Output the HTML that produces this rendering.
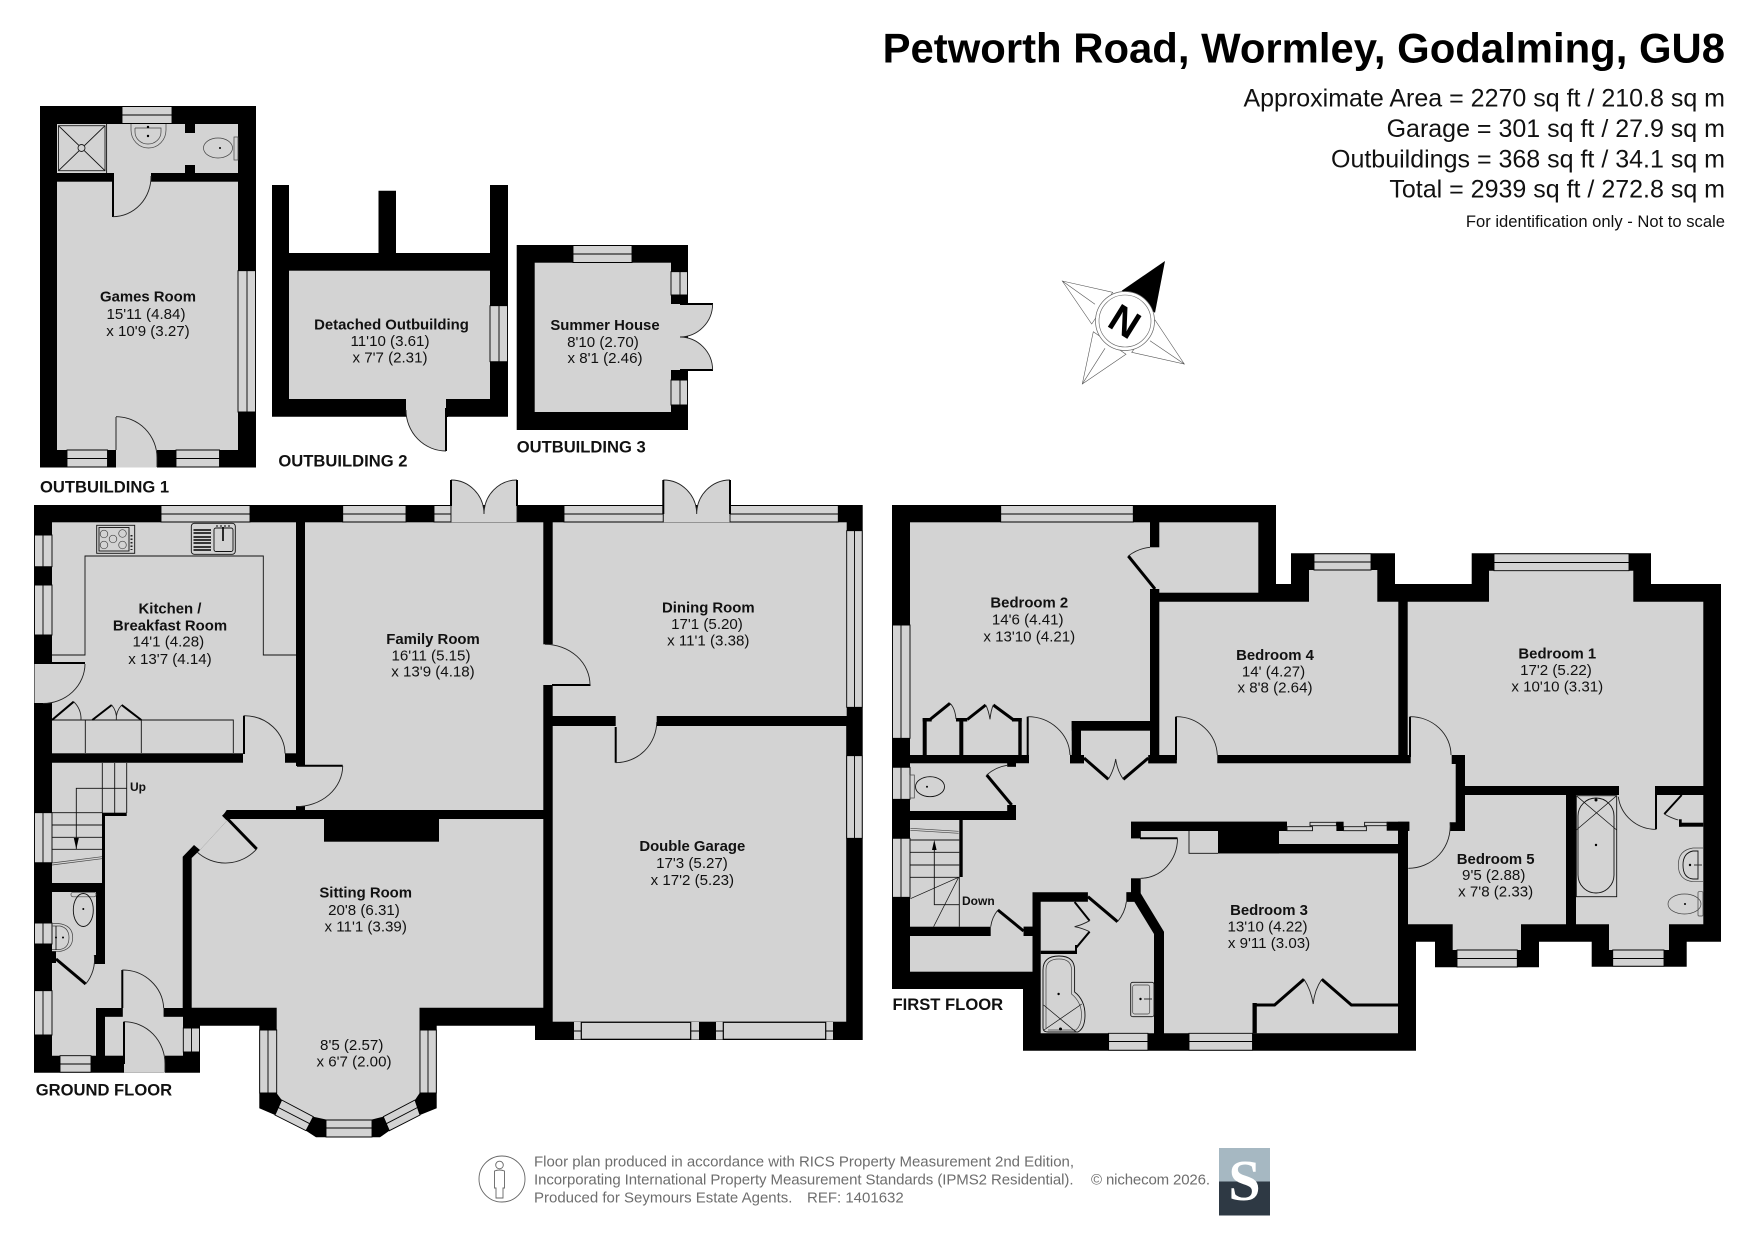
<!DOCTYPE html>
<html><head><meta charset="utf-8"><title>Petworth Road floor plan</title>
<style>
html,body{margin:0;padding:0;background:#fff}
svg{display:block}
text{font-family:"Liberation Sans",sans-serif;fill:#111}
.r text{font-size:15.1px;text-anchor:middle}
.r text.b{font-size:14.9px;font-weight:bold}
.lab{font-size:16.6px;font-weight:bold}
.g{fill:#d3d3d3}
.k{fill:#000}
.w{fill:#d3d3d3;stroke:#000;stroke-width:.9}
.a{fill:none;stroke:#222;stroke-width:.9}
.f{fill:#d3d3d3;stroke:#222;stroke-width:.9}
.l{fill:none;stroke:#000;stroke-width:3}
.m{fill:none;stroke:#000;stroke-width:2}
.t{fill:none;stroke:#111;stroke-width:.9}
.h{fill:none;stroke:#444;stroke-width:.7}
.ft{fill:#6e6e6e;font-size:15px}
</style></head><body>
<svg xmlns="http://www.w3.org/2000/svg" width="1755" height="1241" viewBox="0 0 1755 1241">
<rect width="1755" height="1241" fill="#fff"/>

<!-- Header -->
<text x="1725" y="62.5" text-anchor="end" font-size="41.85" font-weight="bold" style="fill:#000">Petworth Road, Wormley, Godalming, GU8</text>
<g font-size="25" text-anchor="end">
<text x="1735" y="106.7" display="none"></text>
<text x="1725" y="106.7">Approximate Area = 2270 sq ft / 210.8 sq m</text>
<text x="1725" y="137">Garage = 301 sq ft / 27.9 sq m</text>
<text x="1725" y="167.5">Outbuildings = 368 sq ft / 34.1 sq m</text>
<text x="1725" y="197.5">Total = 2939 sq ft / 272.8 sq m</text>
</g>
<text x="1725" y="227" text-anchor="end" font-size="16.6">For identification only - Not to scale</text>

<!-- Compass -->
<g>
<polygon points="1121.7,290.7 1165,261 1155,312.7" fill="#000"/>
<g fill="#fff" stroke="#555" stroke-width=".6">
<polygon points="1062.3,281 1112.7,292.3 1091.7,324"/>
<polygon points="1184.3,364 1155,320 1131.7,352.3"/>
<polygon points="1082.3,384 1093.3,331.7 1126,354.3"/>
<line x1="1062.3" y1="281" x2="1095" y2="304.3"/>
<line x1="1184.3" y1="364" x2="1150" y2="340.7"/>
<line x1="1082.3" y1="384" x2="1105" y2="348.3"/>
</g>
<circle cx="1125" cy="321" r="29.5" fill="#fff" stroke="#666" stroke-width=".7"/>
<circle cx="1125" cy="321" r="26" fill="#fff" stroke="#666" stroke-width=".6"/>
<text x="1125" y="321" font-size="39" font-weight="bold" text-anchor="middle" transform="rotate(32 1125 321) translate(0 14)" style="fill:#000">N</text>
</g>

<!-- OUTBUILDING 1 -->
<rect class="k" x="40" y="106" width="216" height="361.5"/>
<rect class="g" x="57" y="124" width="181" height="49"/>
<rect class="g" x="57" y="181.7" width="181" height="268.3"/>
<rect class="k" x="185" y="124" width="10" height="9"/>
<rect class="k" x="185" y="165" width="10" height="8"/>
<rect class="g" x="113" y="172" width="38" height="11"/>
<rect class="g" x="116" y="449" width="41" height="18.5"/>
<path class="w" d="M122,106.5H172V123.5H122ZM122,115H172"/>
<path class="w" d="M238,270.7H255.5V412H238ZM247,270.7V412"/>
<path class="w" d="M67,450H107.5V467H67ZM67,458.5H107.5"/>
<path class="w" d="M176,450H219.5V467H176ZM176,458.5H219.5"/>
<path class="m" d="M113,173V217"/>
<path class="a" d="M113,216.7A38,40 0 0 0 151,176"/>
<path class="a" d="M116,416.7A41,41 0 0 1 157,458V467"/>
<path class="t" d="M116,417V450"/>
<path class="t" d="M106.6,124V173"/>
<rect x="58.5" y="125.7" width="46.5" height="45" class="f"/>
<path class="t" stroke-width=".6" d="M58.5,125.7L105,170.7M105,125.7L58.5,170.7"/>
<circle cx="81.5" cy="148" r="3.5" class="f"/>
<path class="h" d="M131,124V130A17.5,18 0 0 0 166,130V124"/>
<path class="h" d="M135,128V132A13,12 0 0 0 161,132V128H135"/>
<circle cx="148" cy="127" r="1.2" fill="#000"/><circle cx="148" cy="136" r="1.2" fill="#000"/>
<ellipse cx="218" cy="148" rx="14.5" ry="10" class="h"/>
<rect x="234" y="137" width="4" height="23" class="h"/>
<circle cx="220" cy="148" r="1" fill="#000"/>
<g class="r">
<text x="148" y="301.5" class="b">Games Room</text>
<text x="146" y="319">15'11 (4.84)</text>
<text x="148" y="336">x 10'9 (3.27)</text>
</g>
<text x="40" y="492.7" class="lab">OUTBUILDING 1</text>

<!-- OUTBUILDING 2 -->
<polygon class="k" points="272,185 289,185 289,253 378.5,253 378.5,190.7 396,190.7 396,253 490,253 490,185 508,185 508,416.7 272,416.7"/>
<rect class="g" x="289" y="270.7" width="201" height="128.3"/>
<path class="g" d="M406,398V410A40,41 0 0 0 446,451V398Z"/>
<rect class="k" x="445" y="408" width="3" height="9"/>
<path class="m" d="M446,408V451"/>
<path class="a" d="M446,451A40,41 0 0 1 406,410"/>
<path class="w" d="M490,305.7H507.5V361.7H490ZM499,305.7V361.7"/>
<g class="r">
<text x="391.5" y="329.3" class="b">Detached Outbuilding</text>
<text x="390" y="346">11'10 (3.61)</text>
<text x="390" y="362.7">x 7'7 (2.31)</text>
</g>
<text x="278.4" y="466.7" class="lab">OUTBUILDING 2</text>

<!-- OUTBUILDING 3 -->
<rect class="k" x="516.7" y="245" width="171.3" height="185"/>
<rect class="g" x="534.7" y="262.7" width="136.3" height="149.3"/>
<path class="g" d="M670,304H712.6A33,33 0 0 1 680,337A33,33 0 0 1 712.6,370H670Z"/>
<path class="w" d="M573,245.5H632V262.5H573ZM573,254H632"/>
<path class="w" d="M671,271.7H687.5V295H671ZM680,271.7V295"/>
<path class="w" d="M671,380H687.5V405H671ZM680,380V405"/>
<path class="m" d="M680,304H713M680,370H713"/>
<path class="a" d="M712.6,304A33,33 0 0 1 680,337A33,33 0 0 1 712.6,370"/>
<g class="r">
<text x="605" y="330" class="b">Summer House</text>
<text x="603" y="347">8'10 (2.70)</text>
<text x="605" y="363">x 8'1 (2.46)</text>
</g>
<text x="516.7" y="452.7" class="lab">OUTBUILDING 3</text>

<!-- GROUND FLOOR -->
<polygon class="k" points="34,505 862.7,505 862.7,1040 535,1040 535,1025.7 436.7,1025.7 436.7,1108.3 420,1115 389.3,1130.7 380,1137.3 316,1137.3 306,1130.7 275,1115 259.3,1108.3 259.3,1025.7 200,1025.7 200,1072.7 34,1072.7"/>
<!-- rooms -->
<rect class="g" x="52" y="522.3" width="244" height="231"/>
<rect class="g" x="305" y="522.3" width="238.3" height="287.7"/>
<rect class="g" x="552.7" y="522.3" width="294" height="193.7"/>
<rect class="g" x="552.7" y="726" width="293.5" height="295.7"/>
<polygon class="g" points="228.5,819 543.3,819 543.3,1007.7 419.5,1007.7 419.5,1093.3 415,1100 383.3,1116.7 372,1119.5 326,1119.5 313.3,1116.7 281.7,1100 276.7,1093.3 276.7,1007.7 191.7,1007.7 191.7,858 200,850"/>
<polygon class="g" points="52,762.7 296,762.7 296,810 226.7,810 224,814 228.5,819 200,850 194,845 182.7,856.7 182.7,1008 96,1008 96,1055.7 52,1055.7"/>
<rect class="g" x="105" y="1016.7" width="78" height="39"/>
<rect class="g" x="122.7" y="1007" width="41" height="11"/>
<rect class="g" x="124" y="1054" width="41" height="18.7"/>
<rect class="g" x="243" y="752" width="42" height="12"/>
<rect class="g" x="295" y="766" width="11" height="40"/>
<rect class="g" x="542" y="644.3" width="12" height="40.7"/>
<rect class="g" x="615.7" y="715" width="41" height="12"/>
<rect class="g" x="34.5" y="663" width="18" height="40"/>
<!-- walls in hall -->
<rect class="k" x="102" y="813" width="3" height="79"/>
<rect class="k" x="102" y="812.7" width="24.7" height="3.3"/>
<rect class="k" x="52" y="883" width="53" height="9"/>
<rect class="k" x="96" y="883" width="9" height="81"/>
<rect class="k" x="94" y="955" width="11" height="9"/>
<rect class="k" x="52" y="951" width="4" height="12"/>
<rect class="k" x="96" y="1008" width="9" height="47.7"/>
<rect class="k" x="105" y="1008" width="17.7" height="8.7"/>
<rect class="k" x="163.7" y="1008" width="20" height="8.7"/>
<rect class="k" x="324" y="819" width="115" height="22.7"/>
<!-- windows -->
<path class="w" d="M161,505.5H250V522H161ZM161,514H250"/>
<path class="w" d="M342.7,505.5H406V522H342.7ZM342.7,514H406"/>
<path class="w" d="M434,505.5H451V522H434ZM434,514H451"/>
<path class="w" d="M564,505.5H663.3V522H564ZM564,514H663.3"/>
<path class="w" d="M730,505.5H838.3V522H730ZM730,514H838.3"/>
<path class="w" d="M846.7,530.7H862.2V707.3H846.7ZM854.5,530.7V707.3"/>
<path class="w" d="M846.7,755.7H862.2V838.3H846.7ZM854.5,755.7V838.3"/>
<path class="w" d="M34.5,535H52V566.7H34.5ZM43,535V566.7"/>
<path class="w" d="M34.5,585H52V635H34.5ZM43,585V635"/>
<path class="w" d="M34.5,812.7H52V862.7H34.5ZM43,812.7V862.7"/>
<path class="w" d="M34.5,923H52V944H34.5ZM43,923V944"/>
<path class="w" d="M34.5,990.7H52V1035H34.5ZM43,990.7V1035"/>
<path class="w" d="M60,1055.7H91V1072.2H60ZM60,1064H91"/>
<path class="w" d="M183.3,1028H199.5V1052H183.3ZM191.5,1028V1052"/>
<path class="w" d="M259.7,1030H276.7V1093H259.7ZM268,1030V1093"/>
<path class="w" d="M420,1030H436.3V1093H420ZM428,1030V1093"/>
<path class="w" d="M281.7,1100L313.3,1116.7L306,1130.7L275,1115ZM278.3,1107.5L309.7,1123.7"/>
<path class="w" d="M326,1120H372V1137H326ZM326,1128H372"/>
<path class="w" d="M383.3,1116.7L415,1100L420,1115L389.3,1130.7ZM386.3,1123.7L417.5,1107.5"/>
<!-- garage doors -->
<rect class="g" x="574" y="1022" width="125" height="17.5"/>
<rect class="g" x="716" y="1022" width="117" height="17.5"/>
<path d="M574,1031H582M690,1031H699M716,1031H724M825,1031H833" stroke="#000" stroke-width="1"/>
<rect x="581.3" y="1022.3" width="109.4" height="17" fill="#d3d3d3" stroke="#000" stroke-width="1.2"/>
<rect x="723.3" y="1022.3" width="102.4" height="17" fill="#d3d3d3" stroke="#000" stroke-width="1.2"/>
<!-- french doors -->
<path class="g" d="M451,522V480A33,34 0 0 1 484,514A33,34 0 0 1 517,480V522Z"/>
<path class="a" d="M451,480A33,34 0 0 1 484,514A33,34 0 0 1 517,480"/>
<path class="m" d="M451,480V506M517,480V506"/>
<path class="t" d="M451,506V522M517,506V522"/>
<path class="g" d="M663.3,522V480A33.4,34 0 0 1 696.7,514A33.4,34 0 0 1 730,480V522Z"/>
<path class="a" d="M663.3,480A33.4,34 0 0 1 696.7,514A33.4,34 0 0 1 730,480"/>
<path class="m" d="M663.3,480V514M730,480V514"/>
<path class="t" d="M663.3,514V522M730,514V522"/>
<!-- doors -->
<path class="m" d="M244,715.7V754"/><path class="a" d="M244,715.7A41,38 0 0 1 285,753.5"/>
<path class="m" d="M297,765.7H342.7"/><path class="a" d="M342.7,766A46.7,41 0 0 1 296,806.7"/>
<path class="m" d="M34,663H85"/><path class="a" d="M85,664A42,40 0 0 1 43,703.5"/>
<path class="l" d="M226.7,818L256.7,849"/><path class="a" d="M256.7,849A42,42 0 0 1 196.7,851.7"/>
<rect class="k" x="224" y="811" width="6" height="8" transform="rotate(45 227 815)"/>
<path class="l" d="M56,959L85.7,984"/><path class="a" d="M85.7,984A38.5,38.5 0 0 0 94.3,955"/>
<path class="m" d="M122.3,970V1008"/><path class="a" d="M122.3,970A41.4,40 0 0 1 163.7,1008"/>
<path class="m" d="M124,1021.7V1064"/><path class="a" d="M124,1021.7A41,42 0 0 1 165,1064V1072"/>
<path class="m" d="M615.7,727V762.7"/><path class="a" d="M615.7,762.7A41,41 0 0 0 656.7,722"/>
<path class="m" d="M552,685H590.5"/><path class="a" d="M545,644.3A45,40.7 0 0 1 590,685"/>
<!-- kitchen fittings -->
<path class="t" d="M52,655H85V556H263.3V655H296"/>
<path class="t" d="M52,720H233.3V753M85.3,720V753M141.3,720V753"/>
<path class="m" d="M52,720L73.7,701.7M92.3,720L111.7,705M141.3,720L121.7,705"/>
<path class="a" d="M73.7,701.7A24,24 0 0 1 81,720M111.7,705A20,20 0 0 1 116.3,720M121.7,705A20,20 0 0 0 116.3,720"/>
<rect x="96.7" y="525.3" width="38" height="28" class="t"/>
<rect x="99" y="527.5" width="30" height="23.5" class="t"/>
<g class="h"><circle cx="104" cy="534" r="3.8"/><circle cx="122.5" cy="533.5" r="3.8"/><circle cx="113" cy="539" r="3.8"/><circle cx="104" cy="545" r="3.8"/><circle cx="122.5" cy="545" r="3.8"/></g>
<path d="M131.5,535V550" stroke="#222" stroke-width="2" stroke-dasharray="1.5 2"/>
<rect x="191.3" y="523.3" width="44" height="31" rx="3" class="t"/>
<path d="M193.5,530H211M193.5,533H211M193.5,537H211M193.5,540H211M193.5,543H211M193.5,547H211M193.5,550H211" stroke="#000" stroke-width="1.6"/>
<rect x="214" y="528" width="19" height="23.5" rx="2" class="t"/>
<path d="M223,527V541" stroke="#000" stroke-width="1.6"/>
<path d="M216,526H231" stroke="#000" stroke-width="1" stroke-dasharray="2 2"/>
<!-- stairs -->
<path class="t" d="M102.3,763V813M114.7,763V813M126.7,763V813M76.3,849V788.3H126.7"/>
<path class="t" d="M52,812.7H102M52,825H102M52,837.3H102M52,849.3H102"/>
<polygon points="76.3,849 73.8,838 78.8,838" fill="#000"/>
<path class="h" d="M52,863L102,856.7M52,865L102,858.7"/>
<!-- WC -->
<rect x="71" y="892.3" width="25" height="4.5" rx="2" class="h"/>
<ellipse cx="83.3" cy="910" rx="10" ry="16.5" class="t"/>
<circle cx="83.3" cy="909" r="1" fill="#000"/>
<path class="h" d="M52,923.5H58Q72.7,925 72.7,937.5Q72.7,950 58,951.7H52"/>
<path class="h" d="M52,926H60Q69,928 69,937.5Q69,948 60,949.5H52"/>
<path class="t" d="M56,926V950"/><circle cx="63" cy="937.5" r="1" fill="#000"/><circle cx="56" cy="937.5" r="1" fill="#000"/>
<g class="r">
<text x="170" y="613.3" class="b">Kitchen /</text>
<text x="170" y="630.7" class="b">Breakfast Room</text>
<text x="168.3" y="646.7">14'1 (4.28)</text>
<text x="170" y="664">x 13'7 (4.14)</text>
<text x="433" y="644" class="b">Family Room</text>
<text x="431" y="660.3">16'11 (5.15)</text>
<text x="433" y="676.7">x 13'9 (4.18)</text>
<text x="708.3" y="612.7" class="b">Dining Room</text>
<text x="707" y="629">17'1 (5.20)</text>
<text x="708.3" y="645.7">x 11'1 (3.38)</text>
<text x="692.3" y="851" class="b">Double Garage</text>
<text x="692" y="868">17'3 (5.27)</text>
<text x="692.3" y="885">x 17'2 (5.23)</text>
<text x="365.7" y="897.7" class="b">Sitting Room</text>
<text x="364" y="915">20'8 (6.31)</text>
<text x="365.7" y="931.7">x 11'1 (3.39)</text>
<text x="351.7" y="1050">8'5 (2.57)</text>
<text x="354" y="1066.7">x 6'7 (2.00)</text>
</g>
<text x="130" y="795" font-size="12" font-weight="bold" transform="translate(0 -4)">Up</text>
<text x="35.7" y="1095.7" class="lab">GROUND FLOOR</text>

<!-- FIRST FLOOR -->
<polygon class="k" points="892,505 1276,505 1276,584 1291,584 1291,553.3 1395,553.3 1395,584 1471.7,584 1471.7,553.3 1651,553.3 1651,584 1721,584 1721,941.7 1686.7,941.7 1686.7,966.7 1591.7,966.7 1591.7,941.7 1539,941.7 1539,967.3 1435,967.3 1435,941.7 1416,941.7 1416,1050.7 1023,1050.7 1023,989 892,989"/>
<rect class="g" x="910" y="522.3" width="240" height="232.7"/>
<rect class="g" x="1159.3" y="522.3" width="99" height="70.4"/>
<rect class="g" x="1149" y="547.3" width="11.5" height="41.7"/>
<polygon class="g" points="1159.3,601.7 1309,601.7 1309,570 1377.3,570 1377.3,601.7 1398.3,601.7 1398.3,755 1159.3,755"/>
<polygon class="g" points="1407.7,601.7 1489,601.7 1489,570.7 1633.3,570.7 1633.3,601.7 1703.3,601.7 1703.3,786 1465,786 1465,755 1407.7,755"/>
<rect class="g" x="1081" y="730.7" width="69" height="24.6"/>
<rect class="g" x="1084" y="754" width="64.3" height="10"/>
<rect class="g" x="1176.7" y="754" width="40.6" height="10"/>
<rect class="g" x="1029" y="754" width="41" height="10"/>
<polygon class="g" points="1016,763.3 1410.7,763.3 1410.7,755 1451.7,755 1451.7,764 1455.7,764 1455.7,822.3 1450,822.3 1450,831 1409.3,831 1409.3,821.7 1131,821.7 1131,892.3 1032.5,892.3 1032.5,926.7 959.3,926.7 959.3,877 962.7,877 962.7,820 1016,820"/>
<rect class="g" x="910" y="763.3" width="97.3" height="47.7"/>
<rect class="g" x="1006" y="766.7" width="11" height="38.3"/>
<rect class="g" x="910" y="820" width="49.3" height="106.7"/>
<rect class="g" x="990.7" y="925" width="33" height="12"/>
<rect class="g" x="910" y="936" width="122.5" height="35.7"/>
<polygon class="g" points="1040.7,901.7 1134.3,901.7 1154,934 1154,1033.3 1040.7,1033.3"/>
<rect class="g" x="1087.9" y="891" width="38.5" height="12"/>
<polygon class="g" points="1140.7,831 1218,831 1218,853.3 1398,853.3 1398,1033.3 1164,1033.3 1164,931.7 1140.7,893.3"/>
<rect class="g" x="1130" y="838.3" width="12" height="40"/>
<rect class="g" x="1279" y="831" width="119" height="13"/>
<rect class="g" x="1287" y="820" width="111" height="12"/>
<polygon class="g" points="1408,831 1465,831 1465,795 1566,795 1566,924.3 1521,924.3 1521,950 1452.7,950 1452.7,924.3 1408,924.3"/>
<polygon class="g" points="1576,795 1703.3,795 1703.3,924.3 1669,924.3 1669,950 1609,950 1609,924.3 1576,924.3"/>
<rect class="g" x="1619" y="785" width="37" height="11"/>
<!-- walls overlays -->
<rect class="k" x="1071.7" y="721" width="9.3" height="34"/>
<rect class="k" x="1071.7" y="721" width="78.3" height="9.7"/>
<rect class="k" x="1070" y="755" width="14" height="8.3"/>
<rect class="k" x="1148.3" y="755" width="28.4" height="8.3"/>
<rect class="k" x="1007.3" y="763" width="8.7" height="3.7"/>
<rect class="k" x="1007.3" y="805" width="8.7" height="15"/>
<rect class="k" x="1023.6" y="926.7" width="8.9" height="9.3"/>
<rect class="k" x="1386.7" y="821.7" width="22.6" height="9"/>
<rect class="k" x="1336.4" y="821.7" width="7.2" height="9.3"/>
<rect class="k" x="1131" y="821.7" width="156" height="9.3"/>
<rect class="k" x="1218" y="831" width="61" height="22.3"/>
<rect class="k" x="1218" y="844" width="190" height="9.3"/>
<rect class="k" x="1131" y="831" width="9.7" height="7.3"/>
<rect class="k" x="1040.7" y="950.7" width="35.7" height="3.3"/>
<rect class="k" x="1075" y="945" width="2" height="9"/>
<rect class="k" x="1126.4" y="892.3" width="7.9" height="9.4"/>
<rect class="k" x="1252.5" y="1003" width="4.3" height="30.3"/>
<!-- windows -->
<path class="w" d="M1000.7,505.5H1133.3V522H1000.7ZM1000.7,514H1133.3"/>
<path class="w" d="M892.5,625H910V738.3H892.5ZM901,625V738.3"/>
<path class="w" d="M892.5,767.3H910V799.3H892.5ZM901,767.3V799.3"/>
<path class="w" d="M892.5,838.3H910V897.3H892.5ZM901,838.3V897.3"/>
<path class="w" d="M1314,553.8H1371V570H1314ZM1314,562H1371"/>
<path class="w" d="M1494,553.8H1629V570.7H1494ZM1494,562.5H1629"/>
<path class="w" d="M1457,950H1517.3V967H1457ZM1457,958.5H1517.3"/>
<path class="w" d="M1612.7,950H1664V966.2H1612.7ZM1612.7,958.5H1664"/>
<path class="w" d="M1108.6,1033.3H1147.9V1050.2H1108.6ZM1108.6,1041.5H1147.9"/>
<path class="w" d="M1189,1033.3H1252.5V1050.2H1189ZM1189,1041.5H1252.5"/>
<!-- sliding -->
<path class="t" d="M1287,826.7H1312.5V830.7H1287ZM1310,822.3H1336.4V825.7H1310ZM1343.6,826.7H1366.4V830.7H1343.6ZM1364.6,822.3H1387V825.7H1364.6Z"/>
<path class="t" d="M1189,831V853.3H1218"/>
<!-- doors -->
<path class="l" d="M1155,589L1128.3,556"/><path class="a" d="M1128.3,556A42,42 0 0 1 1150,547.3"/>
<path class="m" d="M1027.7,716.7V763"/><path class="a" d="M1027.7,716.7A42.3,40 0 0 1 1070,755"/>
<path class="m" d="M1176,716.7V760"/><path class="a" d="M1176,716.7A41.3,40 0 0 1 1217.3,755"/>
<path class="l" d="M1011.7,805L986.7,775"/><path class="a" d="M986.7,775A39,39 0 0 1 1007,765.3"/>
<path class="m" d="M1140,838.3H1177.5"/><path class="a" d="M1177.5,838.3A37,40 0 0 1 1140.7,878.3"/>
<path class="l" d="M1087.9,896.7L1117.5,921.7"/><path class="a" d="M1117.5,921.7A38.7,38.7 0 0 0 1126.4,901.7"/>
<path class="l" d="M1023.6,931L997.9,910"/><path class="a" d="M997.9,910A33.2,33.2 0 0 0 990.7,926.7"/>
<path class="m" d="M1410,716.7V757"/><path class="a" d="M1410,716.7A41,38.3 0 0 1 1451,755"/>
<path class="a" d="M1450,822.3A41.7,42 0 0 1 1408.3,868.3"/>
<path class="m" d="M1656,787V829.3"/><path class="a" d="M1656,829.3A37.7,37.3 0 0 1 1618.3,796.7"/>
<!-- cupboard doors -->
<path class="l" d="M1084,758L1108.3,779.3M1148.3,758L1123.3,779.3"/>
<path class="a" d="M1108.3,779.3Q1114,770 1115.7,759Q1117,770 1123.3,779.3"/>
<!-- wardrobes bed 2 -->
<rect class="k" x="922.7" y="718" width="4" height="37"/>
<rect class="k" x="922.7" y="718" width="9" height="3.5"/>
<rect class="k" x="959.3" y="718" width="4" height="37"/>
<rect class="k" x="956" y="718" width="11.3" height="3.5"/>
<rect class="k" x="1018.3" y="718" width="3.4" height="37"/>
<rect class="k" x="1012" y="718" width="9.7" height="3.5"/>
<path class="l" d="M930,719.5L950,703.3M967.3,719.5L985.7,705M1013,719.5L993.3,705"/>
<path class="a" d="M950,703.3Q955,708 956,719M985.7,705Q988.5,710 990,719.3Q991,710 993.3,705"/>
<!-- wardrobe bed 3 -->
<path class="m" style="stroke-width:3" d="M1252.5,1005H1274.6L1304,979.3M1321.8,979.3L1351.4,1005H1398"/>
<path class="a" d="M1304,979.3Q1311,990 1313.2,1004Q1314.5,990 1321.8,979.3"/>
<!-- bath closet -->
<path class="m" d="M1074.6,902L1089.6,920.7M1089.6,931.7L1075.7,948.3"/>
<path class="a" d="M1089.6,920.7Q1082,925 1074.6,926.7Q1082,928 1089.6,931.7"/>
<!-- en-suite closet -->
<path class="m" d="M1681.7,795L1664.3,814"/>
<path class="a" d="M1664.3,814Q1671,818 1678.3,820"/>
<rect class="k" x="1679" y="819.3" width="2.7" height="7.4"/>
<rect class="k" x="1679" y="822.7" width="24.3" height="4"/>
<rect class="k" x="1655" y="786" width="3.3" height="9"/>
<!-- stairs first floor -->
<path class="t" d="M910,840H959.3M910,852.3H959.3M910,865H959.3M910,877.3H959.3"/>
<path class="t" d="M934.3,845V904.7H959.3M959.3,877V926.7"/>
<polygon points="934.3,840 932,850 936.6,850" fill="#000"/>
<path class="h" d="M910.4,828.3L958.6,831.3M910.4,830.3L958.6,833.3"/>
<path class="t" style="stroke-width:.7" d="M958.6,877.3L910.4,898.7M958.6,877.3L933.6,926.7"/>
<!-- WC first floor -->
<rect x="910" y="775" width="4.3" height="23" class="h"/>
<ellipse cx="930" cy="786.7" rx="14.5" ry="10" class="t"/>
<circle cx="927" cy="786.7" r="1" fill="#000"/>
<!-- bath -->
<path class="t" d="M1043,1028V970Q1043,956 1059,956Q1074.6,956 1074.6,970V992Q1085,1000 1085,1015Q1085,1028 1078,1032H1048Q1043,1032 1043,1028Z"/>
<path class="h" d="M1046,1028V970Q1046,959 1059,959Q1071.5,959 1071.5,970V994Q1081.5,1002 1081.5,1015Q1081.5,1025 1076,1030H1048"/>
<path class="t" style="stroke-width:.7" d="M1043.6,1005L1075.7,1031.7M1081.8,1004L1044,1030"/>
<circle cx="1058.6" cy="994" r="1.2" fill="#000"/><circle cx="1060.5" cy="1029" r="1.5" fill="#000"/>
<rect x="1130.7" y="982.3" width="23.3" height="34.4" rx="2" class="t"/>
<rect x="1132.7" y="985" width="17" height="29" rx="2" class="h"/>
<circle cx="1140.5" cy="999" r="1.2" fill="#000"/><path d="M1144,999H1152" stroke="#333" stroke-width="1"/>
<!-- ensuite -->
<rect x="1576.3" y="795.7" width="40.4" height="101" class="t"/>
<rect x="1578" y="798" width="36" height="95" rx="18" class="t"/>
<path class="t" style="stroke-width:.7" d="M1576.3,795.7L1616.7,830M1616.7,795.7L1576.3,830"/>
<circle cx="1596" cy="845" r="1.2" fill="#000"/><circle cx="1596" cy="800" r="1.5" fill="#000"/>
<path class="h" d="M1703,848H1693Q1678.3,850 1678.3,865Q1678.3,880 1693,881.7H1703"/>
<path class="t" d="M1698,851H1693Q1683,853 1683,865Q1683,878 1693,879H1698Z"/>
<circle cx="1690" cy="865" r="1.2" fill="#000"/><path d="M1694,865H1702" stroke="#333" stroke-width="1"/>
<ellipse cx="1684.5" cy="904" rx="16.5" ry="10" class="h"/>
<rect x="1698" y="891.7" width="5" height="24.3" rx="1" class="h"/>
<circle cx="1685" cy="904" r="1" fill="#000"/>
<g class="r">
<text x="1029.3" y="607.7" class="b">Bedroom 2</text>
<text x="1027.7" y="624.3">14'6 (4.41)</text>
<text x="1029.3" y="641.7">x 13'10 (4.21)</text>
<text x="1275" y="660" class="b">Bedroom 4</text>
<text x="1273.5" y="676.3">14' (4.27)</text>
<text x="1275" y="692.7">x 8'8 (2.64)</text>
<text x="1557.3" y="658.3" class="b">Bedroom 1</text>
<text x="1556" y="675">17'2 (5.22)</text>
<text x="1557.3" y="691.7">x 10'10 (3.31)</text>
<text x="1495.7" y="864" class="b">Bedroom 5</text>
<text x="1493.7" y="880">9'5 (2.88)</text>
<text x="1495.7" y="896.7">x 7'8 (2.33)</text>
<text x="1269" y="915" class="b">Bedroom 3</text>
<text x="1267.5" y="931.7">13'10 (4.22)</text>
<text x="1269" y="948">x 9'11 (3.03)</text>
</g>
<text x="962" y="905" font-size="12" font-weight="bold">Down</text>
<text x="892.5" y="1010" class="lab">FIRST FLOOR</text>

<!-- Footer -->
<g fill="none" stroke="#666" stroke-width=".9">
<circle cx="502" cy="1179" r="23"/>
<circle cx="499.5" cy="1165" r="3.8"/>
<path d="M494.5,1171Q499.5,1169 504.5,1171V1188H503V1198H496V1188H494.5Z"/>
</g>
<text x="534" y="1166.7" class="ft" textLength="540">Floor plan produced in accordance with RICS Property Measurement 2nd Edition,</text>
<text x="534" y="1184.3" class="ft" textLength="539.5">Incorporating International Property Measurement Standards (IPMS2 Residential).</text>
<text x="534" y="1202.3" class="ft">Produced for Seymours Estate Agents.</text>
<text x="807" y="1202.3" class="ft">REF: 1401632</text>
<text x="1091" y="1184.3" class="ft" textLength="119">© nichecom 2026.</text>
<rect x="1219" y="1148" width="51" height="33.5" fill="#a6b8c2"/>
<rect x="1219" y="1181.5" width="51" height="34" fill="#2e3944"/>
<text x="1244.5" y="1200" text-anchor="middle" font-size="58" font-weight="bold" style="font-family:'Liberation Serif',serif;fill:#fff">S</text>
</svg>
</body></html>
